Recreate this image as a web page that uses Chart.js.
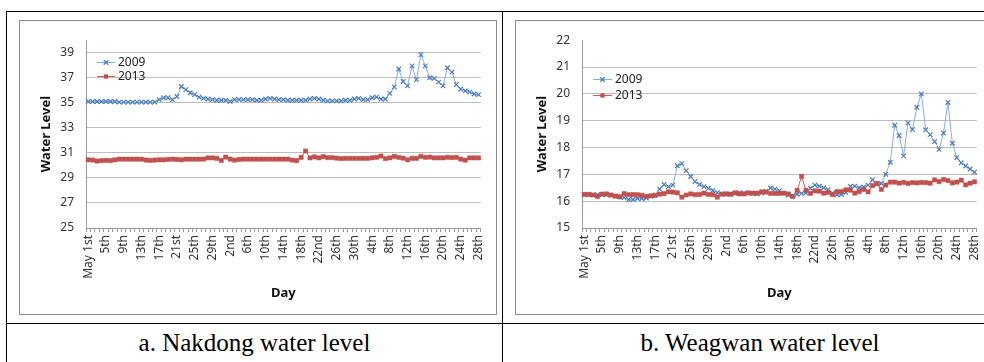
<!DOCTYPE html>
<html><head><meta charset="utf-8">
<script src="https://cdn.jsdelivr.net/npm/chart.js@4.4.1/dist/chart.umd.min.js"></script>
<style>
html,body{margin:0;padding:0;background:#fff;}
body{width:984px;height:362px;overflow:hidden;position:relative;}
.ln{position:absolute;background:#000;}
.frame{position:absolute;border:1px solid #8a8a8a;box-sizing:border-box;width:478px;height:295px;top:20px;background:#fff;}
.frame canvas{position:absolute;left:0;top:0;}
.cap{position:absolute;top:324px;height:38px;line-height:38px;text-align:center;font-family:"Liberation Serif","Times New Roman",serif;font-size:25px;color:#000;white-space:nowrap;}
</style></head><body>
<div class="ln" style="left:6px;top:11px;width:1100px;height:1px"></div>
<div class="ln" style="left:6px;top:11px;width:1px;height:400px"></div>
<div class="ln" style="left:502px;top:11px;width:1px;height:400px"></div>
<div class="ln" style="left:6px;top:323px;width:1100px;height:1px"></div>
<div class="frame" style="left:19px"><canvas id="c1" width="476" height="292"></canvas></div>
<div class="frame" style="left:515px"><canvas id="c2" width="476" height="292"></canvas></div>
<div class="cap" style="left:7px;width:495px">a. Nakdong water level</div>
<div class="cap" style="left:503px;width:514px">b. Weagwan water level</div>
<script>
// ---- categories ----
const monthNames = ['May', 'June', 'July'];
const monthDays = [31, 30, 28];
const labelStep = 4;
function ordinal(d) {
  const s = (d % 10 === 1 && d !== 11) ? 'st' : (d % 10 === 2 && d !== 12) ? 'nd' : (d % 10 === 3 && d !== 13) ? 'rd' : 'th';
  return d + s;
}
const days = [];
monthNames.forEach((m, k) => { for (let d = 1; d <= monthDays[k]; d++) days.push((k === 0 && d === 1) ? 'May 1st' : ordinal(d)); });

const seriesNames = ['2009', '2013'];

// ---- Nakdong ----
const nakdong2009 = [35.1,35.1,35.1,35.1,35.1,35.1,35.1,35.05,35.05,35.05,35.05,35.05,35.05,35.05,35.05,35.05,
  35.25,35.4,35.4,35.25,35.5,36.3,36.05,35.8,35.65,35.45,35.35,35.3,35.25,35.2,35.2,35.2,35.1,35.25,35.25,35.25,35.25,35.25,35.2,35.2,
  35.3,35.35,35.3,35.25,35.25,35.2,35.2,35.2,35.2,35.2,35.3,35.35,35.3,35.2,35.15,35.15,35.15,35.15,35.2,35.2,
  35.3,35.35,35.25,35.25,35.4,35.45,35.3,35.3,35.75,36.25,37.7,36.7,36.35,37.95,36.85,38.85,37.95,37.0,36.95,36.65,
  36.35,37.8,37.45,36.45,36.1,35.95,35.85,35.7,35.65];
const nakdong2013 = [30.45,30.43,30.35,30.38,30.4,30.38,30.45,30.5,30.5,30.5,
  30.5,30.5,30.5,30.43,30.4,30.43,30.45,30.45,30.48,30.5,
  30.48,30.45,30.5,30.5,30.5,30.5,30.5,30.6,30.6,30.57,
  30.4,30.67,30.5,30.42,30.48,30.5,30.5,30.5,30.5,30.5,
  30.5,30.5,30.5,30.5,30.5,30.5,30.42,30.38,30.65,31.15,
  30.6,30.68,30.6,30.7,30.62,30.62,30.58,30.55,30.57,30.57,
  30.57,30.57,30.57,30.57,30.6,30.65,30.75,30.55,30.6,30.72,
  30.65,30.58,30.45,30.57,30.57,30.73,30.65,30.67,30.6,30.6,
  30.6,30.65,30.62,30.65,30.5,30.42,30.6,30.6,30.6];
const nakdongTicks = [25, 27, 29, 31, 33, 35, 37, 39];
const nakdongRange = [25, 40];

// ---- Weagwan ----
const weagwan2009 = [16.25,16.25,16.23,16.24,16.25,16.24,16.22,16.19,16.17,
  16.13,16.06,16.06,16.1,16.1,16.12,
  16.18,16.22,16.45,16.62,16.54,16.6,17.32,17.4,17.14,16.92,16.73,16.62,16.54,16.48,16.4,
  16.32,16.27,16.26,16.26,16.29,16.32,16.3,16.29,16.28,16.27,
  16.3,16.37,16.49,16.45,16.39,16.3,16.23,16.2,16.26,16.29,
  16.31,16.48,16.6,16.56,16.5,16.43,16.3,16.24,16.25,16.32,
  16.55,16.56,16.5,16.53,16.6,16.8,16.63,16.66,17.0,17.45,
  18.83,18.45,17.69,18.92,18.67,19.5,20.0,18.66,18.48,18.22,
  17.93,18.54,19.68,18.16,17.62,17.43,17.31,17.2,17.08];
const weagwan2013 = [16.25,16.25,16.23,16.18,16.26,16.27,16.23,16.19,16.16,16.28,
  16.24,16.24,16.24,16.22,16.18,16.2,16.22,16.26,16.28,16.35,
  16.34,16.31,16.15,16.23,16.27,16.24,16.25,16.3,16.25,16.24,
  16.15,16.26,16.27,16.26,16.31,16.27,16.27,16.31,16.3,16.3,
  16.35,16.34,16.29,16.29,16.29,16.3,16.27,16.17,16.4,16.92,
  16.4,16.29,16.38,16.37,16.3,16.33,16.24,16.36,16.36,16.42,
  16.41,16.3,16.36,16.44,16.35,16.58,16.66,16.44,16.6,16.71,
  16.71,16.67,16.7,16.66,16.69,16.68,16.7,16.69,16.67,16.79,
  16.73,16.81,16.77,16.68,16.71,16.78,16.61,16.67,16.72];
const weagwanTicks = [15, 16, 17, 18, 19, 20, 21, 22];
const weagwanRange = [15, 22];

// ---- styling ----
const FONT = '"Noto Sans", "DejaVu Sans", sans-serif';
const styles2009 = { borderColor: '#88AEDC', borderWidth: 1, pointStyle: 'crossRot', pointRadius: 3.2, pointBorderColor: '#4A7EBB', pointBackgroundColor: '#4A7EBB', pointBorderWidth: 1.2, order: 1 };
const styles2013 = { borderColor: '#CD605D', borderWidth: 1, pointStyle: 'rect', pointRadius: 3, pointBorderColor: '#C0504D', pointBackgroundColor: '#C0504D', pointBorderWidth: 0.5, order: 0 };

const inLegend = {
  id: 'inLegend',
  afterDatasetsDraw(chart, args, opts) {
    const { ctx, chartArea } = chart;
    chart.data.datasets.forEach((ds, k) => {
      const y = Math.round(chartArea.top + opts.y + k * opts.gap) + 0.5;
      const x0 = chartArea.left + opts.x;
      const xm = x0 + opts.len / 2;
      ctx.save();
      ctx.strokeStyle = ds.borderColor; ctx.lineWidth = ds.borderWidth;
      ctx.beginPath(); ctx.moveTo(x0, y); ctx.lineTo(x0 + opts.len, y); ctx.stroke();
      ctx.strokeStyle = ds.pointBorderColor; ctx.fillStyle = ds.pointBackgroundColor;
      if (ds.pointStyle === 'crossRot') {
        const r = ds.pointRadius * Math.SQRT1_2;
        ctx.lineWidth = ds.pointBorderWidth;
        ctx.beginPath(); ctx.moveTo(xm - r, y - r); ctx.lineTo(xm + r, y + r); ctx.moveTo(xm - r, y + r); ctx.lineTo(xm + r, y - r); ctx.stroke();
      } else {
        const s = ds.pointRadius * Math.SQRT1_2;
        ctx.fillRect(xm - s, y - s, 2 * s, 2 * s);
      }
      ctx.fillStyle = '#222'; ctx.font = '12px ' + FONT; ctx.textBaseline = 'middle'; ctx.textAlign = 'left';
      ctx.fillText(ds.label, x0 + opts.len + opts.textGap, y);
      ctx.restore();
    });
  }
};

function makeChart(id, d2009, d2013, ticks, range, pad, legendPos, hideTop) {
  new Chart(document.getElementById(id), {
    type: 'line',
    data: {
      labels: days,
      datasets: [
        Object.assign({ label: seriesNames[0], data: d2009 }, styles2009),
        Object.assign({ label: seriesNames[1], data: d2013 }, styles2013)
      ]
    },
    plugins: [inLegend],
    options: {
      responsive: false, animation: false, devicePixelRatio: 1,
      layout: { padding: pad },
      elements: { line: { tension: 0 } },
      plugins: { legend: { display: false }, tooltip: { enabled: false }, inLegend: legendPos },
      scales: {
        x: {
          type: 'category', offset: true,
          grid: { offset: true, drawOnChartArea: false, drawTicks: true, tickLength: 4, color: '#9a9a9a' },
          border: { color: '#9a9a9a' },
          ticks: {
            autoSkip: false, minRotation: 90, maxRotation: 90, padding: 3, color: '#333',
            font: { family: FONT, size: 12 },
            callback: function (v, i) { return i % labelStep === 0 ? this.getLabelForValue(v) : ''; }
          },
          title: { display: true, text: 'Day', color: '#111', font: { family: FONT, size: 13, weight: 'bold' }, padding: { top: 0, bottom: 12 } },
          afterFit: s => { s.height = 85; }
        },
        y: {
          min: range[0], max: range[1],
          afterBuildTicks: s => { s.ticks = ticks.map(v => ({ value: v })); },
          grid: { drawTicks: false, color: c => (hideTop && c.tick && c.tick.value === range[1]) ? 'rgba(0,0,0,0)' : '#bdbdbd' },
          border: { color: '#9a9a9a' },
          ticks: { padding: 12, color: '#333', font: { family: FONT, size: 12 } },
          title: { display: true, text: 'Water Level', color: '#111', font: { family: FONT, size: 13, weight: 'bold' }, padding: { top: 18, bottom: 0 } },
          afterFit: s => { s.width = 66; }
        }
      }
    }
  });
}

makeChart('c1', nakdong2009, nakdong2013, nakdongTicks, nakdongRange, { top: 12, right: 9, left: 0, bottom: 0 }, { x: 11, y: 22, gap: 14, len: 18, textGap: 3 }, false);
makeChart('c2', weagwan2009, weagwan2013, weagwanTicks, weagwanRange, { top: 11, right: 11, left: 0, bottom: 0 }, { x: 11, y: 39, gap: 16, len: 19, textGap: 3 }, true);
</script>
</body></html>
